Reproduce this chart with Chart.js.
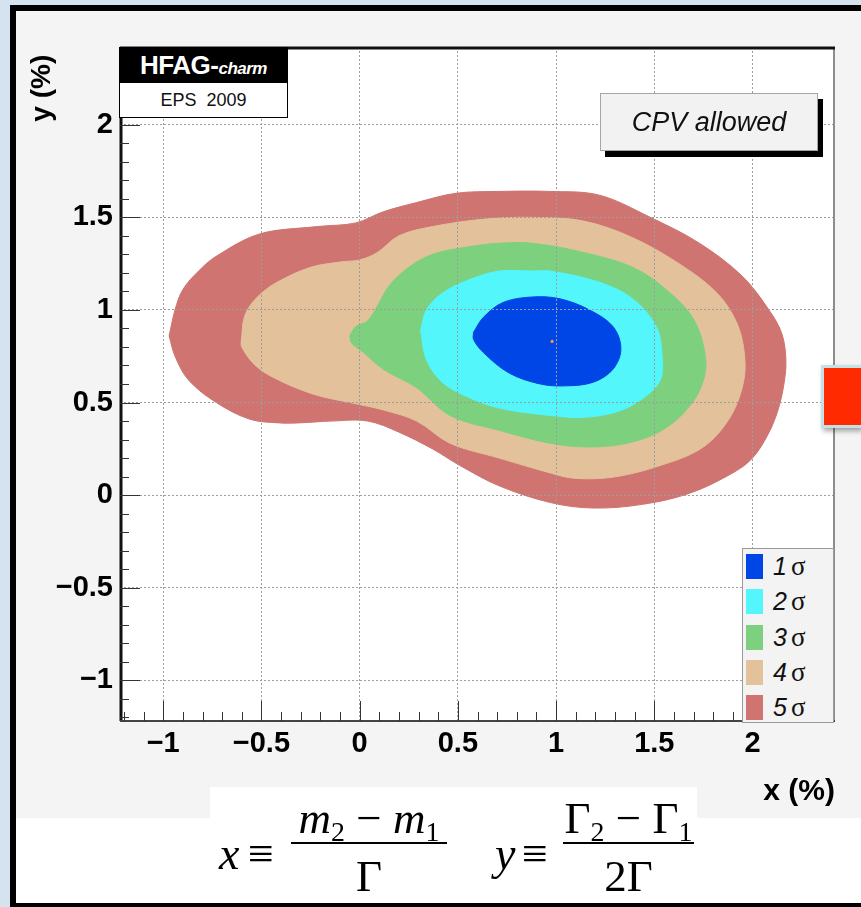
<!DOCTYPE html>
<html>
<head>
<meta charset="utf-8">
<script src="https://cdn.jsdelivr.net/npm/chart.js@4.4.1/dist/chart.umd.min.js"></script>
<style>
html,body{margin:0;padding:0;background:#d5e3f1;}
#page{position:relative;width:861px;height:907px;overflow:hidden;background:#d5e3f1;}
.blk{position:absolute;z-index:0;}
#b1{left:10px;top:5px;width:851px;height:902px;background:#000;}
#b2{left:16px;top:11px;width:845px;height:892px;background:#fff;}
#panel{left:16px;top:11px;width:845px;height:807px;background:#f4f4f4;}
#fbox{left:210px;top:787px;width:487px;height:40px;background:#fff;}
#cwrap{position:absolute;left:0;top:0;width:861px;height:907px;z-index:1;}
.ov{position:absolute;z-index:2;font-family:'Liberation Sans',Arial,sans-serif;}
#hfag{left:119px;top:47px;width:169px;height:71px;border:1px solid #000;box-sizing:border-box;background:#fff;}
#hfag .top{height:35px;background:#000;color:#fff;font-weight:bold;font-size:26px;line-height:35px;text-align:center;letter-spacing:-0.5px;}
#hfag .top i{font-size:17px;}
#hfag .bot{height:34px;line-height:34px;text-align:center;font-size:18px;color:#111;white-space:pre;}
#cpv{left:600px;top:93px;width:218px;height:58px;box-sizing:border-box;background:#f2f2f2;border:1px solid #a5a5a5;box-shadow:5px 6px 0 0 #000;font-style:italic;font-size:27px;line-height:56px;text-align:center;color:#111;}
#legend{left:742px;top:548px;width:92px;height:175px;box-sizing:border-box;background:#f3f3f3;border:1px solid #9a9a9a;}
.lrow{position:absolute;left:2px;height:25px;width:86px;}
.sw{position:absolute;left:1px;top:0;width:17px;height:25px;}
.lt{position:absolute;left:28px;top:-3px;font-size:25px;line-height:30px;color:#111;}
.lt i{font-family:'Liberation Sans',Arial,sans-serif;}
.lt .sg{font-family:'Liberation Serif','Times New Roman',serif;margin-left:4px;font-size:27px;}
#redsq{left:821px;top:365px;width:40px;height:63px;box-sizing:border-box;background:#ff2a00;border:3px solid #c4e2e6;border-right:none;box-shadow:2px 3px 5px rgba(0,0,0,0.35);}
.m{position:absolute;z-index:2;font-family:'Liberation Serif','Times New Roman',serif;font-size:46px;line-height:45px;color:#000;white-space:nowrap;}
.frac{position:absolute;z-index:2;font-family:'Liberation Serif','Times New Roman',serif;font-size:45px;color:#000;text-align:center;white-space:nowrap;}
.frac .num{height:47px;line-height:47px;}
.frac .bar{height:2px;background:#000;}
.frac .den{height:47px;line-height:47px;margin-top:9px;}
sub{font-size:62%;vertical-align:-0.28em;line-height:0;}
</style>
</head>
<body>
<div id="page">
<div class="blk" id="b1"></div>
<div class="blk" id="b2"></div>
<div class="blk" id="panel"></div>
<div class="blk" id="fbox"></div>
<div id="cwrap"><canvas id="c" width="861" height="907"></canvas></div>
<div class="ov" id="hfag"><div class="top">HFAG-<i>charm</i></div><div class="bot">EPS  2009</div></div>
<div class="ov" id="cpv">CPV allowed</div>
<div class="ov" id="legend"></div>
<div class="ov" id="redsq"></div>
<span class="m" style="left:219px;top:831px;"><i>x</i></span>
<span class="m" style="left:248px;top:831px;">≡</span>
<div class="frac" style="left:291px;top:795px;width:156px;"><div class="num"><i>m</i><sub>2</sub> − <i>m</i><sub>1</sub></div><div class="bar"></div><div class="den">Γ</div></div>
<span class="m" style="left:495px;top:831px;"><i>y</i></span>
<span class="m" style="left:522px;top:831px;">≡</span>
<div class="frac" style="left:563px;top:795px;width:131px;"><div class="num">Γ<sub>2</sub> − Γ<sub>1</sub></div><div class="bar"></div><div class="den">2Γ</div></div>
</div>
<script>
// ---- axis ticks ----
const X_TICKS = [-1, -0.5, 0, 0.5, 1, 1.5, 2];
const X_TICK_LABELS = ['\u22121', '\u22120.5', '0', '0.5', '1', '1.5', '2'];
const Y_TICKS = [-1, -0.5, 0, 0.5, 1, 1.5, 2];
const Y_TICK_LABELS = ['\u22121', '\u22120.5', '0', '0.5', '1', '1.5', '2'];
const X_RANGE = [-1.22, 2.42];
const Y_RANGE = [-1.22, 2.42];

// ---- contour series (x %, y %) ----
const SIGMA_NAMES = ['1', '2', '3', '4', '5'];
const SIGMA1_X = [0.58, 0.63, 0.73, 0.88, 1.02, 1.17, 1.29, 1.33, 1.29, 1.19, 1.05, 0.92, 0.76, 0.63, 0.58];
const SIGMA1_Y = [0.88, 0.96, 1.04, 1.07, 1.06, 1.00, 0.91, 0.79, 0.68, 0.61, 0.59, 0.60, 0.66, 0.77, 0.84];
const SIGMA2_X = [0.31, 0.34, 0.42, 0.55, 0.71, 0.88, 0.97, 1.22, 1.39, 1.51, 1.54, 1.53, 1.44, 1.31, 1.14, 0.97, 0.71, 0.55, 0.42, 0.34];
const SIGMA2_Y = [0.89, 1.00, 1.09, 1.16, 1.21, 1.21, 1.21, 1.15, 1.06, 0.91, 0.75, 0.62, 0.52, 0.45, 0.42, 0.43, 0.47, 0.53, 0.61, 0.73];
const SIGMA3_X = [-0.05, -0.02, 0.04, 0.09, 0.15, 0.25, 0.37, 0.55, 0.71, 0.88, 1.14, 1.39, 1.56, 1.70, 1.76, 1.75, 1.68, 1.54, 1.36, 1.17, 0.97, 0.71, 0.46, 0.29, 0.12, 0.02, -0.04];
const SIGMA3_Y = [0.86, 0.91, 0.94, 1.02, 1.13, 1.23, 1.30, 1.34, 1.36, 1.36, 1.31, 1.23, 1.11, 0.95, 0.75, 0.62, 0.48, 0.35, 0.28, 0.26, 0.28, 0.35, 0.43, 0.58, 0.68, 0.77, 0.82];
const SIGMA4_X = [-0.60, -0.59, -0.56, -0.50, -0.42, -0.25, -0.09, 0.00, 0.09, 0.20, 0.37, 0.63, 0.88, 1.14, 1.39, 1.64, 1.82, 1.92, 1.96, 1.95, 1.88, 1.75, 1.56, 1.31, 1.10, 0.97, 0.71, 0.46, 0.29, 0.12, -0.05, -0.22, -0.39, -0.52, -0.60];
const SIGMA4_Y = [0.86, 0.95, 1.02, 1.09, 1.15, 1.23, 1.26, 1.27, 1.31, 1.40, 1.45, 1.49, 1.50, 1.48, 1.39, 1.24, 1.09, 0.93, 0.75, 0.59, 0.41, 0.26, 0.17, 0.10, 0.09, 0.12, 0.20, 0.28, 0.40, 0.46, 0.50, 0.54, 0.61, 0.69, 0.80];
const SIGMA5_X = [-0.97, -0.94, -0.90, -0.82, -0.73, -0.51, -0.22, -0.02, 0.12, 0.29, 0.49, 0.71, 0.97, 1.22, 1.48, 1.73, 1.95, 2.09, 2.15, 2.17, 2.16, 2.13, 2.08, 2.00, 1.90, 1.68, 1.44, 1.19, 0.97, 0.71, 0.51, 0.37, 0.20, 0.04, -0.14, -0.31, -0.41, -0.56, -0.73, -0.87, -0.94];
const SIGMA5_Y = [0.86, 1.00, 1.11, 1.21, 1.29, 1.41, 1.45, 1.47, 1.53, 1.58, 1.63, 1.64, 1.64, 1.62, 1.50, 1.36, 1.18, 0.99, 0.87, 0.73, 0.60, 0.46, 0.33, 0.20, 0.12, 0.01, -0.05, -0.07, -0.04, 0.05, 0.16, 0.25, 0.34, 0.40, 0.40, 0.39, 0.39, 0.41, 0.50, 0.62, 0.75];
const BEST_X = [0.98];
const BEST_Y = [0.83];

// ---- styles ----
const SIGMA_COLORS = ['#0046e6', '#52f6fb', '#7dd17e', '#e3c19b', '#cf7471'];
const FONT = "'Liberation Sans', Arial, Helvetica, sans-serif";

const XS = [SIGMA1_X, SIGMA2_X, SIGMA3_X, SIGMA4_X, SIGMA5_X];
const YS = [SIGMA1_Y, SIGMA2_Y, SIGMA3_Y, SIGMA4_Y, SIGMA5_Y];
function closedLoop(xs, ys) {
  const pts = xs.map((x, i) => ({x: x, y: ys[i]}));
  pts.push({x: xs[0], y: ys[0]});
  return pts;
}

// legend (HTML, built from the series names)
const legendEl = document.getElementById('legend');
SIGMA_NAMES.forEach((n, i) => {
  const row = document.createElement('div');
  row.className = 'lrow';
  row.style.top = (5 + i * 35.25) + 'px';
  row.innerHTML = '<span class="sw" style="background:' + SIGMA_COLORS[i] + '"></span>' +
                  '<span class="lt"><i>' + n + '</i><span class="sg">σ</span></span>';
  legendEl.appendChild(row);
});

const frameTicks = {
  id: 'frameTicks',
  beforeDraw(chart) {
    const {ctx, chartArea: a} = chart;
    ctx.save();
    ctx.fillStyle = '#ffffff';
    ctx.fillRect(a.left, a.top, a.right - a.left, a.bottom - a.top);
    ctx.restore();
  },
  afterDraw(chart) {
    const {ctx, chartArea: a, scales} = chart;
    const xs = scales.x, ys = scales.y;
    ctx.save();
    ctx.strokeStyle = '#8c8c8c';
    ctx.lineWidth = 2;
    ctx.beginPath(); ctx.moveTo(a.right - 1, a.top); ctx.lineTo(a.right - 1, a.bottom); ctx.stroke();
    ctx.strokeStyle = '#111';
    ctx.lineWidth = 3;
    ctx.beginPath(); ctx.moveTo(a.left, a.top + 1); ctx.lineTo(a.right, a.top + 1); ctx.stroke();
    ctx.beginPath(); ctx.moveTo(a.left + 1, a.top); ctx.lineTo(a.left + 1, a.bottom); ctx.stroke();
    ctx.strokeStyle = '#444';
    ctx.lineWidth = 2;
    ctx.beginPath(); ctx.moveTo(a.left, a.bottom); ctx.lineTo(a.right, a.bottom); ctx.stroke();
    ctx.strokeStyle = '#333';
    ctx.lineWidth = 1;
    for (let v = Math.ceil(xs.min * 10); v <= Math.floor(xs.max * 10); v++) {
      const px = Math.round(xs.getPixelForValue(v / 10)) + 0.5;
      const len = (v % 5 === 0) ? 20 : 9;
      ctx.beginPath(); ctx.moveTo(px, a.bottom); ctx.lineTo(px, a.bottom - len); ctx.stroke();
    }
    for (let v = Math.ceil(ys.min * 10); v <= Math.floor(ys.max * 10); v++) {
      const py = Math.round(ys.getPixelForValue(v / 10)) + 0.5;
      const len = (v % 5 === 0) ? 20 : 9;
      ctx.beginPath(); ctx.moveTo(a.left, py); ctx.lineTo(a.left + len, py); ctx.stroke();
    }
    ctx.restore();
  }
};

const datasets = [{
  label: 'best fit',
  data: BEST_X.map((x, i) => ({x: x, y: BEST_Y[i]})),
  pointRadius: 1.6,
  pointBackgroundColor: '#f0a030',
  pointBorderWidth: 0,
  showLine: false
}];
SIGMA_NAMES.forEach((n, i) => {
  datasets.push({
    label: n + 'σ',
    data: closedLoop(XS[i], YS[i]),
    showLine: true,
    fill: 'shape',
    backgroundColor: SIGMA_COLORS[i],
    borderColor: SIGMA_COLORS[i],
    borderWidth: 1,
    tension: 0.35,
    pointRadius: 0
  });
});

new Chart(document.getElementById('c'), {
  type: 'scatter',
  data: {datasets: datasets},
  plugins: [frameTicks],
  options: {
    responsive: false,
    animation: false,
    devicePixelRatio: 1,
    layout: {padding: {left: 0, top: 47, right: 26, bottom: 97}},
    plugins: {legend: {display: false}, tooltip: {enabled: false}},
    scales: {
      x: {
        type: 'linear', position: 'bottom', min: X_RANGE[0], max: X_RANGE[1],
        afterBuildTicks: (s) => { s.ticks = X_TICKS.map(v => ({value: v})); },
        afterFit: (s) => { s.height = 89; },
        ticks: {
          padding: 6, maxRotation: 0, autoSkip: false, color: '#000',
          font: {family: FONT, size: 29, weight: 'bold'},
          callback: (v) => X_TICK_LABELS[X_TICKS.indexOf(v)]
        },
        grid: {color: '#9d9d9d', lineWidth: 1, drawTicks: false, z: 1},
        border: {display: false, dash: [2, 2]},
        title: {display: true, text: 'x (%)', align: 'end', color: '#000',
                font: {family: FONT, size: 30, weight: 'bold'}, padding: {top: 0, bottom: 0}}
      },
      y: {
        type: 'linear', position: 'left', min: Y_RANGE[0], max: Y_RANGE[1],
        afterBuildTicks: (s) => { s.ticks = Y_TICKS.map(v => ({value: v})); },
        afterFit: (s) => { s.width = 120; },
        ticks: {
          padding: 7, color: '#000',
          font: {family: FONT, size: 29, weight: 'bold'},
          callback: (v) => Y_TICK_LABELS[Y_TICKS.indexOf(v)]
        },
        grid: {color: '#9d9d9d', lineWidth: 1, drawTicks: false, z: 1},
        border: {display: false, dash: [2, 2]},
        title: {display: true, text: 'y (%)\u00a0', align: 'end', color: '#000',
                font: {family: FONT, size: 28, weight: 'bold'}, padding: {top: 25, bottom: 0}}
      }
    }
  }
});
</script>
</body>
</html>
